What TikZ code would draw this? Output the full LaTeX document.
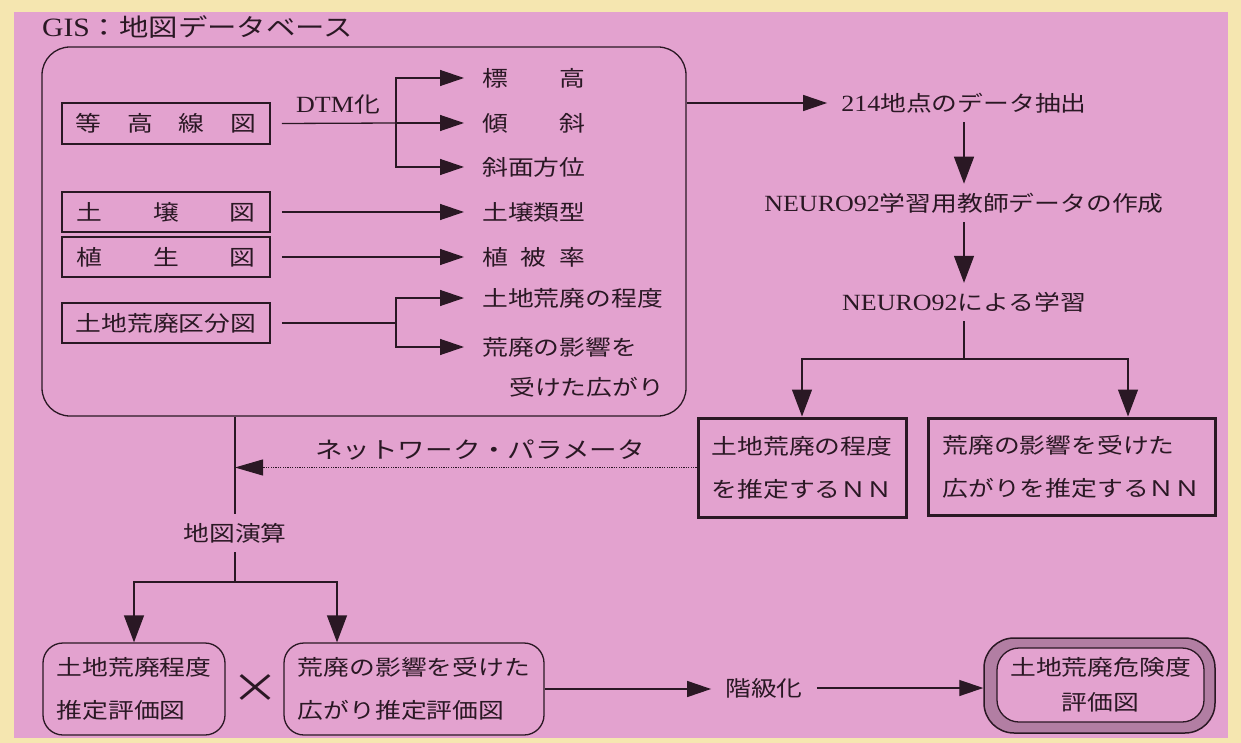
\documentclass[tikz,border=0pt]{standalone}
\usepackage{fontspec}
\setmainfont{Liberation Serif}[FakeStretch=1.12,Scale=1.08]
\newfontfamily\jp{Noto Sans CJK JP}[FakeStretch=1.2]
\usetikzlibrary{arrows.meta}
\definecolor{pinkbg}{HTML}{E3A2CF}
\definecolor{yel}{HTML}{F5E6B0}
\definecolor{ink}{HTML}{2A1824}
\definecolor{hatch}{HTML}{B27EA3}
\newcommand\fsz{\fontsize{21.5}{43}\selectfont}
\newcommand\sprd[2]{\makebox[#1][s]{#2}}
\begin{document}
\begin{tikzpicture}[x=1pt,y=-1pt,
  every node/.style={text=ink, font=\fsz},
  jpn/.style={font=\fsz\jp},
  ln/.style={draw=ink, line width=1.3pt},
  harrow/.style={ln, -{Triangle[length=24pt,width=16pt]}},
  varrow/.style={ln, -{Triangle[length=27pt,width=20pt]}},
  darrow/.style={draw=ink, line width=1pt, dash pattern=on 1.2pt off 1.2pt, -{Triangle[length=28pt,width=16pt]}},
  box/.style={draw=ink, line width=1.5pt, inner sep=0pt},
  nnbox/.style={draw=ink, line width=3pt, inner sep=0pt, align=left, font=\fsz\jp},
  rbox/.style={draw=ink, line width=1.3pt, rounded corners=20pt, inner sep=0pt, align=left, font=\fsz\jp},
  txt/.style={inner xsep=0pt, inner ysep=9pt},
  lbl/.style={inner sep=0pt, anchor=west, font=\fsz\jp}]
\useasboundingbox (0,0) rectangle (1241,743);
\fill[yel] (0,0) rectangle (1241,743);
\fill[pinkbg] (14,12) rectangle (1228,738);

% title
\node[inner sep=0pt, anchor=west, font=\fontsize{24.5}{24.5}\selectfont] (title) at (42,27) {GIS{\jp ：地図データベース}};

% GIS big box
\node[rbox, rounded corners=28pt, minimum width=644pt, minimum height=369pt] (gis) at (364,231.5) {};

% left boxes
\node[box, jpn, minimum width=208pt, minimum height=41pt] (kou) at (166,123.5) {\sprd{181pt}{等\hfill 高\hfill 線\hfill 図}};
\node[box, jpn, minimum width=208pt, minimum height=40pt] (dojo) at (166,212) {\sprd{179pt}{土\hfill 壌\hfill 図}};
\node[box, jpn, minimum width=208pt, minimum height=40pt] (shoku) at (166,257) {\sprd{179pt}{植\hfill 生\hfill 図}};
\node[box, jpn, minimum width=208pt, minimum height=40pt] (kohai) at (166,323) {土地荒廃区分図};

\node[inner sep=0pt] (dtm) at (338,104) {DTM{\jp 化}};

% labels
\node[lbl] (hyo) at (482,78) {\sprd{103pt}{標\hfill 高}};
\node[lbl] (kei) at (482,123) {\sprd{103pt}{傾\hfill 斜}};
\node[lbl] (hoi) at (482,167) {斜面方位};
\node[lbl] (doruikei) at (482,212) {土壌類型};
\node[lbl] (hiritsu) at (482,257) {\sprd{103pt}{植\hfill 被\hfill 率}};
\node[lbl] (teido) at (482,298) {土地荒廃の程度};
\node[lbl] (eikyo) at (482,347) {荒廃の影響を};
\node[lbl] (hirogari) at (509,387) {受けた広がり};

\coordinate (j1) at (396,123);
\coordinate (j2) at (396,323);
\draw[ln] ([xshift=11pt]kou.east) -- (j1);
\draw[harrow] (j1) -- ([xshift=-18pt]kei.west);
\draw[harrow] (j1) |- ([xshift=-18pt]hyo.west);
\draw[harrow] (j1) |- ([xshift=-18pt]hoi.west);
\draw[harrow] ([xshift=11pt]dojo.east) -- ([xshift=-18pt]doruikei.west);
\draw[harrow] ([xshift=11pt]shoku.east) -- ([xshift=-18pt]hiritsu.west);
\draw[ln] ([xshift=11pt]kohai.east) -- (j2);
\draw[harrow] (j2) |- ([xshift=-18pt]teido.west);
\draw[harrow] (j2) |- ([xshift=-18pt]eikyo.west);

% right column
\node[txt] (data) at (964,103) {214{\jp 地点のデータ抽出}};
\node[txt] (teacher) at (964,203) {NEURO92{\jp 学習用教師データの作成}};
\node[txt] (learn) at (964,302) {NEURO92{\jp による学習}};
\draw[harrow] (gis.east |- data.west) -- ([xshift=-14pt]data.west);
\draw[varrow] (data.south) -- (teacher.north);
\draw[varrow] (teacher.south) -- (learn.north);

\node[nnbox, minimum width=208pt, minimum height=99pt] (nn1) at (802,467.5) {土地荒廃の程度\\を推定するＮＮ};
\node[nnbox, minimum width=287pt, minimum height=97pt] (nn2) at (1071.5,466.5) {荒廃の影響を受けた\\広がりを推定するＮＮ};
\coordinate (j3) at (964,359);
\draw[ln] (learn.south) -- (j3);
\draw[varrow] (j3) -| (nn1.north);
\draw[varrow] (j3) -| ([xshift=56.5pt]nn2.north);

% network parameter
\coordinate (v1) at (235,416);
\node[inner sep=0pt, font=\fontsize{23}{23}\selectfont\jp] (param) at (480,450) {ネットワーク・パラメータ};
\draw[darrow] (nn1.west) -- (nn1.west -| v1);

\node[txt, jpn] (map) at (235,533) {地図演算};
\draw[ln] (gis.south -| v1) -- (map.north);
\coordinate (j5) at (235,582);
\draw[ln] (map.south) -- (j5);

\node[rbox, minimum width=182pt, minimum height=92pt] (hyoA) at (134,689) {土地荒廃程度\\推定評価図};
\node[rbox, minimum width=260pt, minimum height=92pt] (hyoB) at (414,689) {荒廃の影響を受けた\\広がり推定評価図};
\draw[varrow] (j5) -| (hyoA.north);
\draw[varrow] (j5) -| ([xshift=-77pt]hyoB.north);

\node[inner sep=0pt, font=\fontsize{40}{40}\selectfont\jp] (times) at (255,689) {×};

\node[inner sep=0pt, jpn] (kaikyu) at (764,688) {階級化};
\node[draw=ink, line width=1.5pt, fill=hatch, rounded corners=30pt, minimum width=231pt, minimum height=95pt, inner sep=0pt] (riskout) at (1099.5,685.5) {};
\node[draw=ink, line width=1.3pt, fill=pinkbg, rounded corners=22pt, minimum width=207pt, minimum height=74pt, inner sep=0pt, align=center, font=\fontsize{21.5}{35}\selectfont\jp] (risk) at (1100.5,685) {土地荒廃危険度\\評価図};
\draw[harrow] (hyoB.east) -- ([xshift=-14pt]kaikyu.west |- hyoB.east);
\draw[harrow] ([xshift=14pt]kaikyu.east) -- (kaikyu.east -| riskout.west);
\end{tikzpicture}
\end{document}
